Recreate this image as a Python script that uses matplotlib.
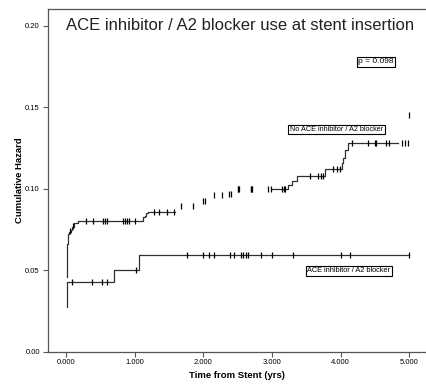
import matplotlib
matplotlib.use("Agg")
import matplotlib.pyplot as plt

plt.rcParams['font.family'] = ['Liberation Sans', 'DejaVu Sans']

# ---- data ----
# No ACE inhibitor / A2 blocker : first visible segment (time, cumulative hazard)
no_ace_t1 = [0.010, 0.012, 0.020, 0.030, 0.050, 0.070, 0.090, 0.120, 0.180, 1.130, 1.150, 1.170, 1.190, 1.590]
no_ace_h1 = [0.0457, 0.058, 0.066, 0.072, 0.0735, 0.075, 0.0765, 0.079, 0.0805, 0.0825, 0.0835, 0.085, 0.086, 0.086]
# second visible segment
no_ace_t2 = [2.990, 3.230, 3.290, 3.360, 3.770, 4.020, 4.040, 4.060, 4.110, 4.840]
no_ace_h2 = [0.0998, 0.1024, 0.105, 0.108, 0.1122, 0.1157, 0.1188, 0.1239, 0.128, 0.128]
# censored observations
no_ace_cens_t = [0.06, 0.10, 0.294, 0.39, 0.546, 0.575, 0.604, 0.828, 0.857, 0.886, 0.915, 1.007,
                 1.29, 1.36, 1.47, 1.575,
                 1.68, 1.85, 1.99, 2.02, 2.16, 2.28, 2.37, 2.40,
                 2.50, 2.51, 2.52, 2.69, 2.70, 2.71, 2.95, 2.99,
                 3.14, 3.17, 3.19, 3.55, 3.67, 3.72, 3.75, 3.89, 3.95, 3.99,
                 4.16, 4.40, 4.50, 4.52, 4.66, 4.71, 4.89, 4.94, 4.98, 5.00]
no_ace_cens_h = [0.074, 0.077, 0.0805, 0.0805, 0.0805, 0.0805, 0.0805, 0.0805, 0.0805, 0.0805, 0.0805, 0.0805,
                 0.086, 0.086, 0.086, 0.086,
                 0.0897, 0.0897, 0.0926, 0.0926, 0.0963, 0.0963, 0.0966, 0.0966,
                 0.0998, 0.0998, 0.0998, 0.0998, 0.0998, 0.0998, 0.0998, 0.0998,
                 0.0998, 0.0998, 0.0998, 0.108, 0.108, 0.108, 0.108, 0.1122, 0.1122, 0.1122,
                 0.128, 0.128, 0.128, 0.128, 0.128, 0.128, 0.128, 0.128, 0.128, 0.1454]

# ACE inhibitor / A2 blocker
ace_t = [0.010, 0.015, 0.706, 1.066, 5.000]
ace_h = [0.0273, 0.043, 0.0502, 0.0594, 0.0594]
ace_cens_t = [0.086, 0.377, 0.53, 0.60, 1.017,
              1.77, 2.00, 2.09, 2.15, 2.39, 2.45, 2.55, 2.58, 2.62, 2.65, 2.84, 3.00, 3.31, 4.01, 4.13, 5.00]
ace_cens_h = [0.043, 0.043, 0.043, 0.043, 0.0502,
              0.0594, 0.0594, 0.0594, 0.0594, 0.0594, 0.0594, 0.0594, 0.0594, 0.0594, 0.0594,
              0.0594, 0.0594, 0.0594, 0.0594, 0.0594, 0.0594]

xticks = [0, 1, 2, 3, 4, 5]
xtick_labels = ["0.000", "1.000", "2.000", "3.000", "4.000", "5.000"]
yticks = [0.00, 0.05, 0.10, 0.15, 0.20]
ytick_labels = ["0.00", "0.05", "0.10", "0.15", "0.20"]

title = "ACE inhibitor / A2 blocker use at stent insertion"
p_text = "p = 0.098"
label_no = "No ACE inhibitor / A2 blocker"
label_ace = "ACE inhibitor / A2 blocker"

# ---- figure ----
fig = plt.figure(figsize=(4.27, 3.85), dpi=100)
ax = fig.add_axes([0.1115, 0.0865, 0.8885, 0.8909])
ax.set_xlim(-0.265, 5.258)
ax.set_ylim(0, 0.2106)

line_col = '#303030'
ax.step(no_ace_t1, no_ace_h1, where='post', color=line_col, lw=0.9)
ax.step(no_ace_t2, no_ace_h2, where='post', color=line_col, lw=0.9)
ax.step(ace_t, ace_h, where='post', color=line_col, lw=0.9)
ax.plot(no_ace_cens_t, no_ace_cens_h, ls='none', marker='|', ms=4.2, mew=0.9, color='black')
ax.plot(ace_cens_t, ace_cens_h, ls='none', marker='|', ms=4.2, mew=0.9, color='black')

for s in ['top', 'left', 'bottom']:
    ax.spines[s].set_color('#555555')
    ax.spines[s].set_linewidth(0.9)
ax.spines['right'].set_visible(False)

ax.set_xticks(xticks)
ax.set_xticklabels(xtick_labels)
ax.set_yticks(yticks)
ax.set_yticklabels(ytick_labels)
ax.tick_params(axis='both', length=3.6, width=0.8, color='#555555', labelsize=5.5, pad=2)

ax.set_xlabel("Time from Stent (yrs)", fontsize=6.8, fontweight='bold', labelpad=3)
ax.set_ylabel("Cumulative Hazard", fontsize=6.8, fontweight='bold', labelpad=1)

ax.text(0.0, 0.2000, title, fontsize=12, ha='left', va='center', color='#222222')

box = dict(boxstyle='square,pad=0.2', fc='white', ec='black', lw=0.8)
ax.text(4.515, 0.178, p_text, fontsize=6, ha='center', va='center', bbox=box)
ax.text(3.94, 0.1364, label_no, fontsize=5.2, ha='center', va='center', bbox=box)
ax.text(4.12, 0.0496, label_ace, fontsize=5.3, ha='center', va='center', bbox=box)

fig.savefig("out.png", dpi=100)
